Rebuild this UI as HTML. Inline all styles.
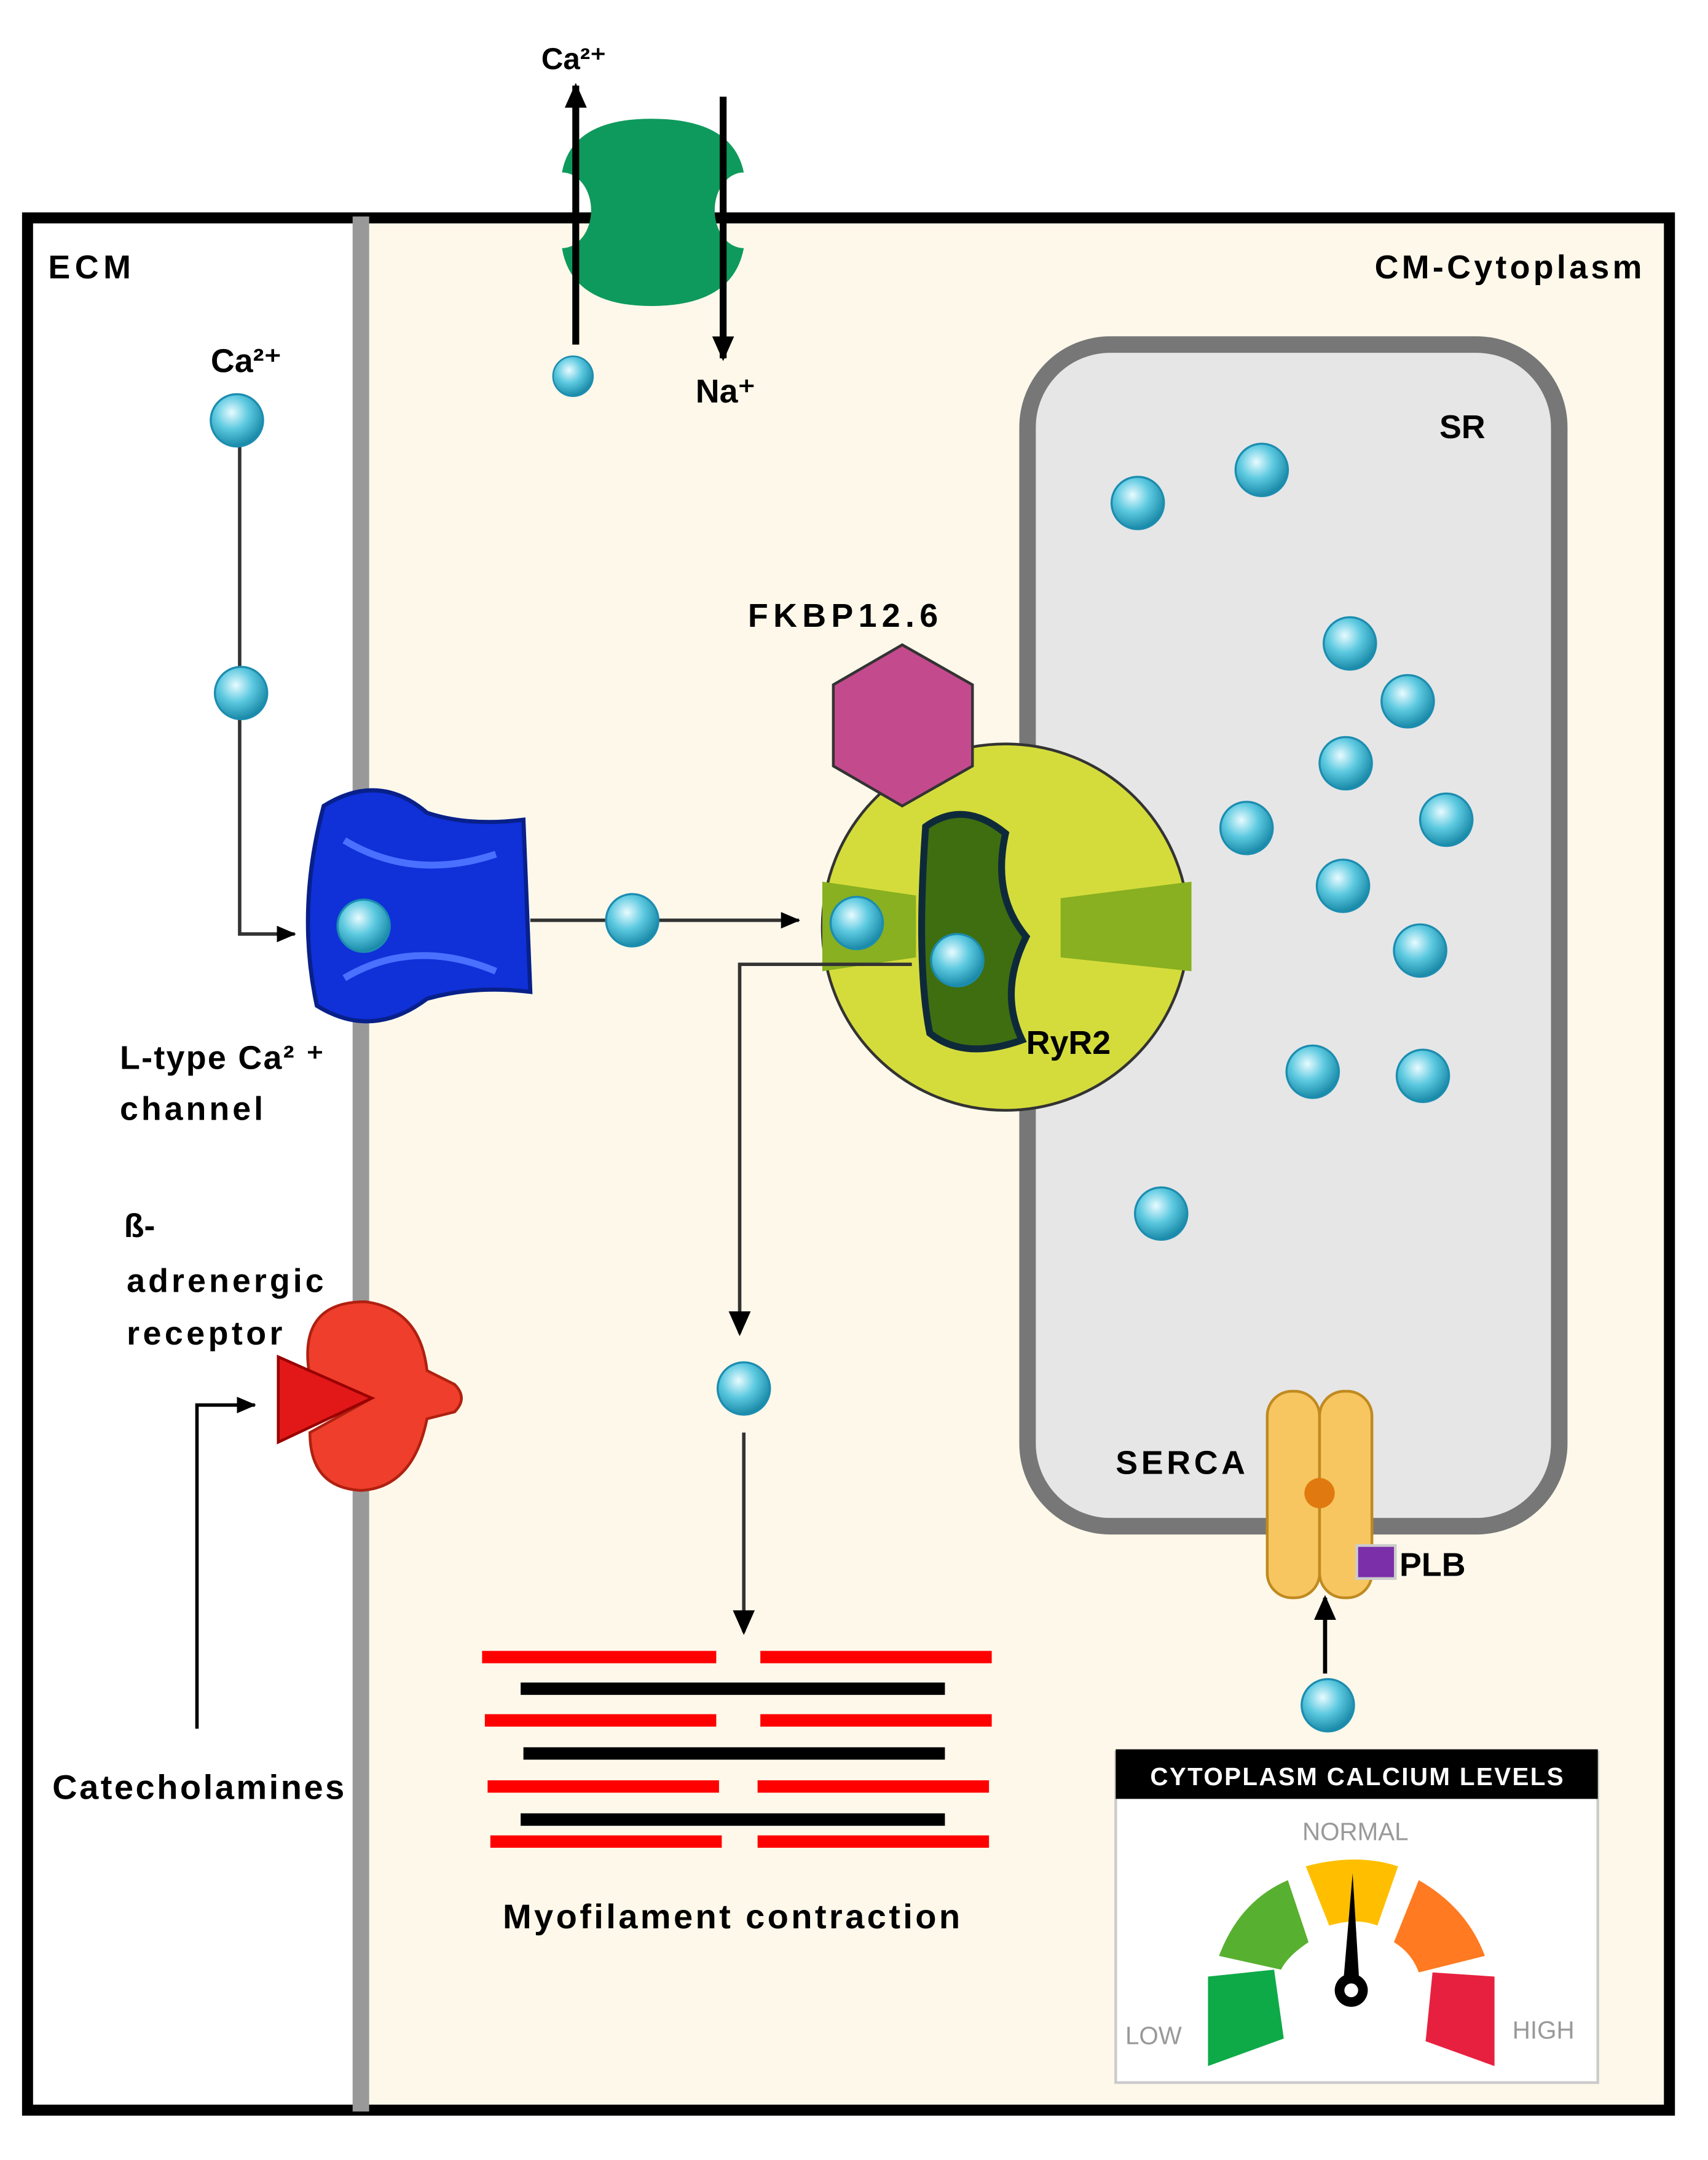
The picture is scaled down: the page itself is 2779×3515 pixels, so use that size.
<!DOCTYPE html>
<html><head><meta charset="utf-8"><style>html,body{margin:0;padding:0;background:#fff}svg{display:block}</style></head><body>
<svg width="2779" height="3515" viewBox="0 0 1240 1568" xmlns="http://www.w3.org/2000/svg" font-family="Liberation Sans, sans-serif">
<defs>
<radialGradient id="ball" cx="0.4" cy="0.35" r="0.65"><stop offset="0" stop-color="#e8fbff"/><stop offset="0.5" stop-color="#5cc9e0"/><stop offset="1" stop-color="#1a8aa8"/></radialGradient>
<marker id="ar" markerWidth="14" markerHeight="12" refX="13" refY="6" orient="auto" markerUnits="userSpaceOnUse"><path d="M0,0 L14,6 L0,12 z" fill="#000"/></marker>
<marker id="ar2" markerWidth="18" markerHeight="16" refX="16" refY="8" orient="auto" markerUnits="userSpaceOnUse"><path d="M0,0 L18,8 L0,16 z" fill="#000"/></marker>
<symbol id="b" viewBox="-21 -21 42 42"><circle r="19" fill="url(#ball)" stroke="#1c8db0" stroke-width="1.5"/></symbol>
</defs>
<rect x="0" y="0" width="1240" height="1568" fill="#fff"/>
<rect x="262" y="157" width="951" height="1376" fill="#fdf8ea"/>
<rect x="20" y="158" width="1192" height="1374" fill="none" stroke="#000" stroke-width="8"/>
<rect x="256" y="157" width="12" height="1376" fill="#999"/>
<!-- exchanger -->
<path d="M408,125 Q415,86 473,86 Q532,86 540,125 A20,26 0 0 0 540,180 Q532,222 473,222 Q415,222 408,180 A20,26 0 0 0 408,125z" fill="#0e9a5c"/>
<line x1="418" y1="250" x2="418" y2="62" stroke="#000" stroke-width="5" marker-end="url(#ar2)"/>
<line x1="525" y1="70" x2="525" y2="260" stroke="#000" stroke-width="5" marker-end="url(#ar2)"/>
<text x="393" y="50" font-size="22" font-weight="bold">Ca²⁺</text>
<text x="505" y="292" font-size="24" font-weight="bold">Na⁺</text>
<text x="35" y="202" font-size="24" font-weight="bold" textLength="60">ECM</text>
<text x="998" y="202" font-size="24" font-weight="bold" textLength="194">CM-Cytoplasm</text>
<!-- SR -->
<rect x="746" y="250" width="386" height="858" rx="60" fill="#e6e6e6" stroke="#777" stroke-width="12"/>
<text x="1045" y="318" font-size="24" font-weight="bold">SR</text>
<!-- Ca path left -->
<polyline points="174,305 174,678 214,678" fill="none" stroke="#333" stroke-width="2.5" marker-end="url(#ar)"/>
<text x="153" y="270" font-size="24" font-weight="bold">Ca²⁺</text>
<!-- L type channel -->
<path d="M235,585 Q275,560 310,590 Q340,600 380,595 L385,720 Q345,715 310,725 Q270,755 230,730 Q215,660 235,585z" fill="#1030d8" stroke="#08208a" stroke-width="3"/>
<path d="M250,610 Q300,640 360,620 M250,710 Q300,680 360,705" stroke="#4a70ff" stroke-width="5" fill="none"/>
<line x1="385" y1="668" x2="580" y2="668" stroke="#333" stroke-width="2.5" marker-end="url(#ar)"/>
<text x="87" y="776" font-size="24" font-weight="bold" textLength="148">L-type Ca² ⁺</text>
<text x="87" y="813" font-size="24" font-weight="bold" textLength="104">channel</text>
<!-- RyR2 -->
<circle cx="730" cy="673" r="133" fill="#d4dc3c" stroke="#333" stroke-width="2"/>
<path d="M597,640 L665,650 L665,695 L597,705 Z" fill="#88b020"/>
<path d="M865,640 L770,652 L770,695 L865,705 Z" fill="#88b020"/>
<path d="M672,600 Q700,580 730,605 Q720,650 745,680 Q725,720 742,755 Q700,770 675,750 Q665,700 672,600z" fill="#3e6e10" stroke="#0e2a3a" stroke-width="5"/>
<text x="745" y="765" font-size="24" font-weight="bold">RyR2</text>
<polygon points="655,468 706,497 706,556 655,585 605,556 605,497" fill="#c44a8e" stroke="#333" stroke-width="2"/>
<text x="543" y="455" font-size="24" font-weight="bold" textLength="138">FKBP12.6</text>
<polyline points="662,700 537,700 537,968" fill="none" stroke="#333" stroke-width="2.5" marker-end="url(#ar2)"/>
<line x1="540" y1="1040" x2="540" y2="1185" stroke="#333" stroke-width="2.5" marker-end="url(#ar2)"/>
<!-- myofilaments -->
<g stroke-width="9">
<line x1="350" y1="1203" x2="520" y2="1203" stroke="#f00"/><line x1="552" y1="1203" x2="720" y2="1203" stroke="#f00"/>
<line x1="378" y1="1226" x2="686" y2="1226" stroke="#000"/>
<line x1="352" y1="1249" x2="520" y2="1249" stroke="#f00"/><line x1="552" y1="1249" x2="720" y2="1249" stroke="#f00"/>
<line x1="380" y1="1273" x2="686" y2="1273" stroke="#000"/>
<line x1="354" y1="1297" x2="522" y2="1297" stroke="#f00"/><line x1="550" y1="1297" x2="718" y2="1297" stroke="#f00"/>
<line x1="378" y1="1321" x2="686" y2="1321" stroke="#000"/>
<line x1="356" y1="1337" x2="524" y2="1337" stroke="#f00"/><line x1="550" y1="1337" x2="718" y2="1337" stroke="#f00"/>
</g>
<text x="365" y="1400" font-size="25" font-weight="bold" textLength="332">Myofilament contraction</text>
<!-- beta receptor -->
<path d="M225,1000 Q215,945 265,945 Q305,950 310,995 L330,1005 Q340,1015 330,1025 L310,1030 Q300,1080 262,1082 Q225,1080 225,1040 L270,1015 Z" fill="#ef3e2c" stroke="#b02010" stroke-width="2"/>
<polygon points="202,985 270,1015 202,1047" fill="#e21818" stroke="#900" stroke-width="2"/>
<text x="90" y="898" font-size="24" font-weight="bold">ß-</text>
<text x="92" y="938" font-size="24" font-weight="bold" textLength="143">adrenergic</text>
<text x="92" y="976" font-size="24" font-weight="bold" textLength="113">receptor</text>
<polyline points="143,1255 143,1020 185,1020" fill="none" stroke="#000" stroke-width="2.5" marker-end="url(#ar)"/>
<text x="38" y="1306" font-size="25" font-weight="bold" textLength="212">Catecholamines</text>
<!-- SERCA -->
<rect x="920" y="1010" width="38" height="150" rx="18" fill="#f7c660" stroke="#c08a20" stroke-width="2"/>
<rect x="958" y="1010" width="38" height="150" rx="18" fill="#f7c660" stroke="#c08a20" stroke-width="2"/>
<circle cx="958" cy="1084" r="11" fill="#e07a10"/>
<rect x="985" y="1122" width="28" height="24" fill="#7b2fa8" stroke="#ccc" stroke-width="2"/>
<text x="1016" y="1144" font-size="24" font-weight="bold">PLB</text>
<text x="810" y="1070" font-size="24" font-weight="bold" textLength="94">SERCA</text>
<line x1="962" y1="1215" x2="962" y2="1160" stroke="#000" stroke-width="3" marker-end="url(#ar2)"/>
<!-- gauge -->
<rect x="810" y="1272" width="350" height="240" fill="#fff" stroke="#ccc" stroke-width="2"/>
<rect x="810" y="1270" width="350" height="36" fill="#000"/>
<text x="985" y="1296" font-size="18" font-weight="bold" fill="#fff" text-anchor="middle" textLength="300">CYTOPLASM CALCIUM LEVELS</text>
<text x="984" y="1336" font-size="18" fill="#999" text-anchor="middle">NORMAL</text>
<text x="817" y="1484" font-size="18" fill="#999">LOW</text>
<text x="1098" y="1480" font-size="18" fill="#999">HIGH</text>
<g stroke="none">
<path d="M877,1500 L877,1435 L925,1430 L932,1480 Z" fill="#0eaa48"/>
<path d="M885,1420 Q900,1380 935,1365 L950,1410 Q935,1420 930,1430 Z" fill="#58b030"/>
<path d="M948,1355 Q985,1345 1015,1355 L1000,1398 Q985,1392 965,1398 Z" fill="#ffbf00"/>
<path d="M1030,1365 Q1065,1385 1078,1420 L1030,1432 Q1025,1418 1012,1410 Z" fill="#ff7a20"/>
<path d="M1085,1435 L1085,1500 L1035,1482 L1040,1432 Z" fill="#e8203f"/>
</g>
<polygon points="975,1442 982,1360 987,1442" fill="#000"/>
<circle cx="981" cy="1445" r="12" fill="#000"/><circle cx="981" cy="1445" r="5" fill="#fff"/>
<!-- balls -->
<g>
<use href="#b" x="151" y="284" width="42" height="42"/>
<use href="#b" x="154" y="482" width="42" height="42"/>
<use href="#b" x="243" y="651" width="42" height="42"/>
<use href="#b" x="438" y="647" width="42" height="42"/>
<use href="#b" x="601" y="649" width="42" height="42"/>
<use href="#b" x="674" y="676" width="42" height="42"/>
<use href="#b" x="400" y="257" width="32" height="32"/>
<use href="#b" x="805" y="344" width="42" height="42"/>
<use href="#b" x="895" y="320" width="42" height="42"/>
<use href="#b" x="959" y="446" width="42" height="42"/>
<use href="#b" x="1001" y="488" width="42" height="42"/>
<use href="#b" x="956" y="533" width="42" height="42"/>
<use href="#b" x="1029" y="574" width="42" height="42"/>
<use href="#b" x="884" y="580" width="42" height="42"/>
<use href="#b" x="954" y="622" width="42" height="42"/>
<use href="#b" x="1010" y="669" width="42" height="42"/>
<use href="#b" x="932" y="757" width="42" height="42"/>
<use href="#b" x="1012" y="760" width="42" height="42"/>
<use href="#b" x="822" y="860" width="42" height="42"/>
<use href="#b" x="519" y="987" width="42" height="42"/>
<use href="#b" x="943" y="1217" width="42" height="42"/>
</g>
</svg>
</body></html>
